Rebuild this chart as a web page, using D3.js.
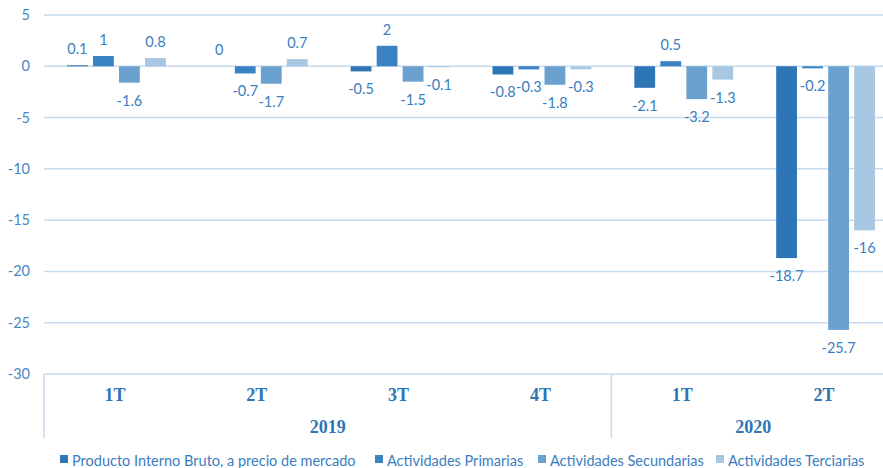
<!DOCTYPE html>
<html>
<head>
<meta charset="utf-8">
<script src="https://cdn.jsdelivr.net/npm/d3@7"></script>
<style>
  body { margin: 0; background: #fff; }
  svg { display: block; }
</style>
</head>
<body>
<div id="chartBox"></div>
<script>
// data
var quarters = ['1T', '2T', '3T', '4T', '1T', '2T'];
var years = ['2019', '2019', '2019', '2019', '2020', '2020'];
var seriesNames = ['Producto Interno Bruto, a precio de mercado', 'Actividades Primarias', 'Actividades Secundarias', 'Actividades Terciarias'];
var pib = [0.1, 0, -0.5, -0.8, -2.1, -18.7];
var primarias = [1, -0.7, 2, -0.3, 0.5, -0.2];
var secundarias = [-1.6, -1.7, -1.5, -1.8, -3.2, -25.7];
var terciarias = [0.8, 0.7, -0.1, -0.3, -1.3, -16];
var yTicks = [5, 0, -5, -10, -15, -20, -25, -30];

var colors = ['#2e75b6', '#3a82c2', '#6aa1cf', '#a7c7e3'];
var seriesValues = [pib, primarias, secundarias, terciarias];

var width = 883, height = 468;
var main = d3.select('#chartBox').append('svg')
    .attr('width', width)
    .attr('height', height);

var idx = d3.range(quarters.length);
var x = d3.scaleBand()
    .domain(idx)
    .range([44, 895]);
var x1 = d3.scaleBand()
    .domain(d3.range(seriesNames.length))
    .range([23, x.bandwidth() - 20])
    .paddingInner(0.2);
var y = d3.scaleLinear()
    .domain([-30, 5])
    .range([374, 15]);

// gridlines + y labels
main.append('g')
    .selectAll('line')
    .data(yTicks)
    .enter()
    .append('line')
    .attr('x1', 44)
    .attr('x2', width)
    .attr('y1', d => y(d))
    .attr('y2', d => y(d))
    .attr('stroke', '#c6dbef')
    .attr('stroke-width', 1.5);

main.append('g')
    .selectAll('text')
    .data(yTicks)
    .enter()
    .append('text')
    .text(d => d)
    .attr('x', 30)
    .attr('y', d => y(d) + 5)
    .attr('text-anchor', 'end')
    .attr('fill', '#4a86c5')
    .style('font-family', 'Lato, "Open Sans", sans-serif')
    .style('font-size', '14.5px');

// bars
var rows = [];
seriesValues.forEach(function(vals, s) {
    vals.forEach(function(v, i) {
        rows.push({ s: s, i: i, v: v });
    });
});

var bars = main.append('g');
bars.selectAll('rect')
    .data(rows)
    .enter()
    .append('rect')
    .attr('x', d => x(d.i) + x1(d.s))
    .attr('width', x1.bandwidth())
    .attr('y', d => y(Math.max(0, d.v)))
    .attr('height', d => Math.abs(y(d.v) - y(0)))
    .attr('fill', d => colors[d.s]);

bars.selectAll('text')
    .data(rows)
    .enter()
    .append('text')
    .text(d => d.v)
    .attr('x', d => x(d.i) + x1(d.s) + x1.bandwidth() / 2)
    .attr('y', d => d.v >= 0 ? y(d.v) - 11 : y(d.v) + 23)
    .attr('text-anchor', 'middle')
    .attr('fill', '#3b7dc0')
    .style('font-family', 'Lato, "Open Sans", sans-serif')
    .style('font-size', '14.5px');

// category axis
var axis = main.append('g');
axis.selectAll('text.q')
    .data(idx)
    .enter()
    .append('text')
    .attr('class', 'q')
    .text(d => quarters[d])
    .attr('x', d => x(d) + x.bandwidth() / 2)
    .attr('y', 401)
    .attr('text-anchor', 'middle')
    .attr('fill', '#2e75b6')
    .style('font-family', '"Liberation Serif", serif')
    .style('font-weight', 'bold')
    .style('font-size', '18px');

var yearGroups = d3.groups(idx, d => years[d]);
axis.selectAll('text.yr')
    .data(yearGroups)
    .enter()
    .append('text')
    .attr('class', 'yr')
    .text(d => d[0])
    .attr('x', d => (x(d[1][0]) + x(d[1][d[1].length - 1]) + x.bandwidth()) / 2)
    .attr('y', 433)
    .attr('text-anchor', 'middle')
    .attr('fill', '#2e75b6')
    .style('font-family', '"Liberation Serif", serif')
    .style('font-weight', 'bold')
    .style('font-size', '18px');

axis.selectAll('line')
    .data(yearGroups)
    .enter()
    .append('line')
    .attr('x1', d => x(d[1][0]))
    .attr('x2', d => x(d[1][0]))
    .attr('y1', 374)
    .attr('y2', 438)
    .attr('stroke', '#c6dbef')
    .attr('stroke-width', 1.5);

// legend
var legendX = [60, 375, 538, 716];
var legend = main.append('g');
var item = legend.selectAll('g')
    .data(seriesNames)
    .enter()
    .append('g')
    .attr('transform', (d, i) => 'translate(' + legendX[i] + ',0)');
item.append('rect')
    .attr('x', 0)
    .attr('y', 455)
    .attr('width', 8)
    .attr('height', 8)
    .attr('fill', (d, i) => colors[i]);
item.append('text')
    .text(d => d)
    .attr('x', 12)
    .attr('y', 466)
    .attr('fill', '#3b7dc0')
    .style('font-family', 'Lato, "Open Sans", sans-serif')
    .style('font-size', '14.5px');
</script>
</body>
</html>
